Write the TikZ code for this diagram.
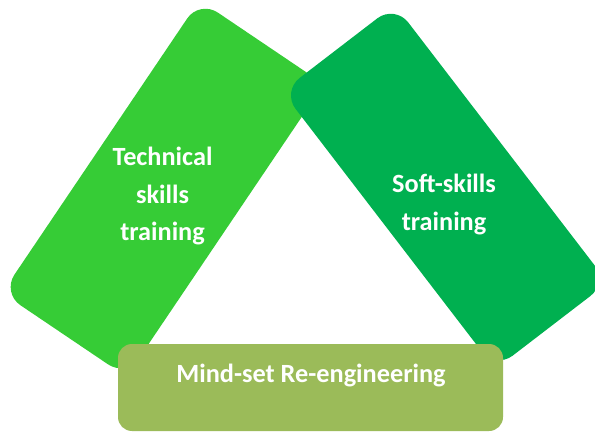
\documentclass[tikz,border=0pt]{standalone}
\usepackage{fontspec}
\setmainfont{Carlito}
\definecolor{lightgrn}{RGB}{54,204,54}
\definecolor{darkgrn}{RGB}{0,176,80}
\definecolor{olivegrn}{RGB}{155,187,89}
\begin{document}
\begin{tikzpicture}[x=1pt,y=1pt,
	box/.style={rectangle,rounded corners=22pt,inner sep=0pt},
	lbl/.style={text=white,font=\bfseries\fontsize{26.3}{37.5}\selectfont,align=center}]
	\useasboundingbox (0,0) rectangle (595,432);
	\node[box,fill=lightgrn,minimum width=353pt,minimum height=150pt,rotate=56]	(T) at (163,243.5)	{};
	\node[box,fill=darkgrn,minimum width=350pt,minimum height=142pt,rotate=-52.5]	(S) at (445,245)	{};
	\node[box,fill=olivegrn,rounded corners=14pt,minimum width=385pt,minimum height=87pt]	(M) at (310.5,44.5)	{};
	\node[lbl]				(T1) at (162.5,235.5)	{Technical\\skills\\training};
	\node[lbl]				(S1) at (444,227.5)	{Soft-skills\\training};
	\node[lbl,anchor=base]	(M1) at (311,50)		{Mind-set Re-engineering};
\end{tikzpicture}
\end{document}
